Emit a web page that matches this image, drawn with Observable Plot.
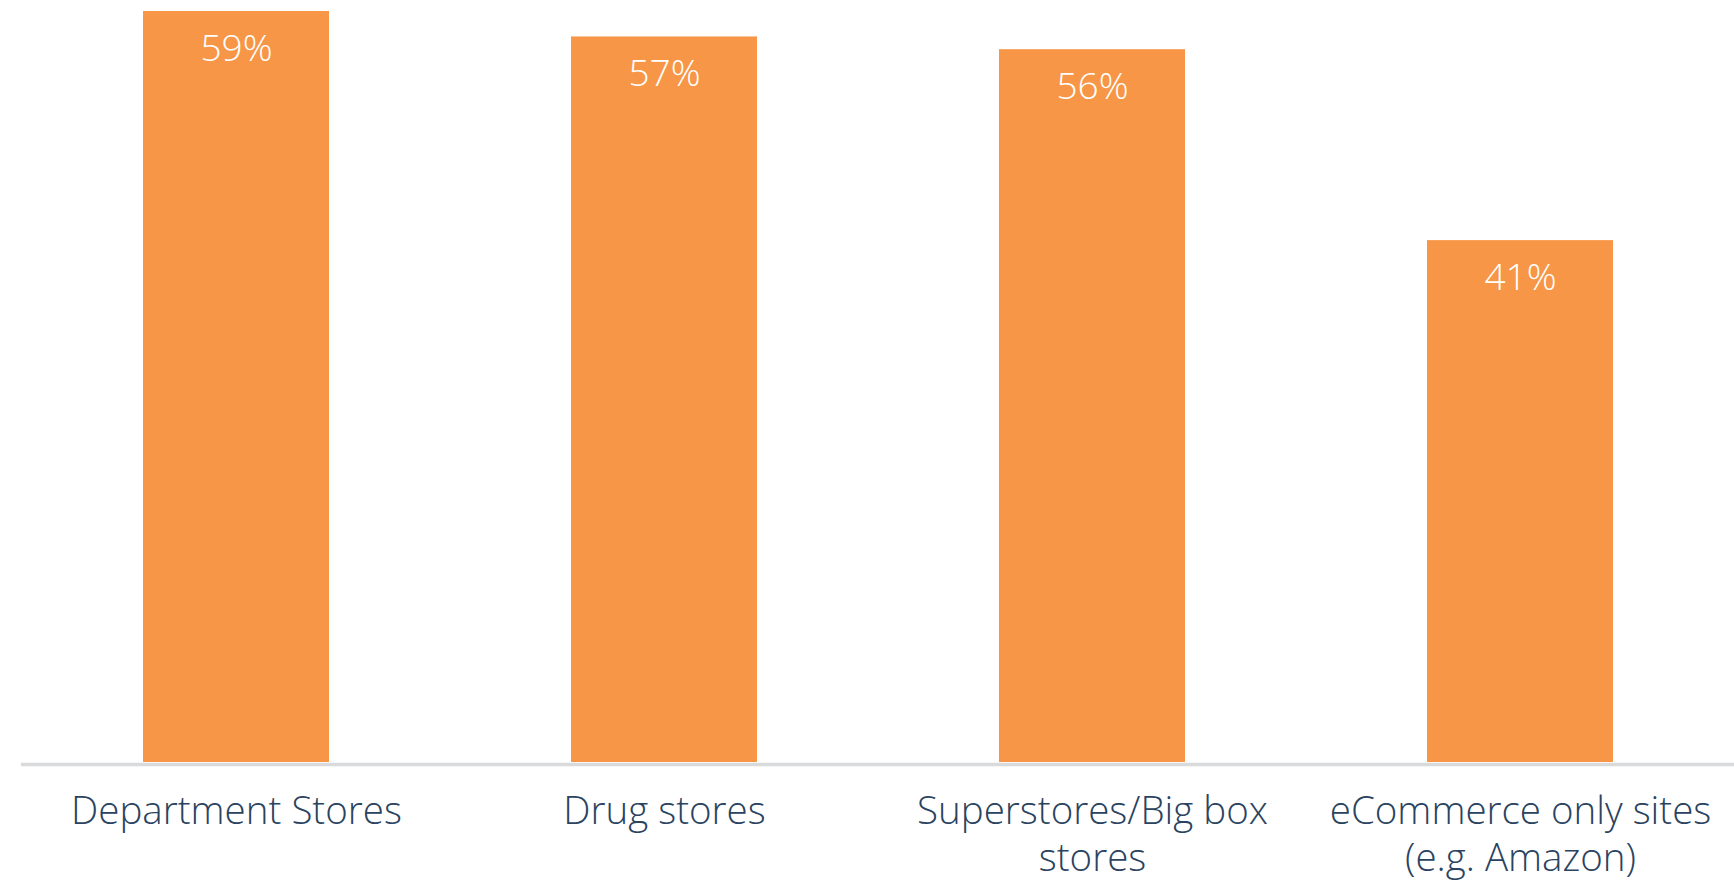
<!DOCTYPE html>
<html>
<head>
<meta charset="utf-8">
<script src="https://cdn.jsdelivr.net/npm/d3@7"></script>
<script src="https://cdn.jsdelivr.net/npm/@observablehq/plot@0.6"></script>
<style>
  html, body { margin: 0; padding: 0; background: #ffffff; }
  #chart { width: 1734px; height: 883px; overflow: hidden; }
</style>
</head>
<body>
<div id="chart"></div>
<script>
const categories = ["Department Stores", "Drug stores", "Superstores/Big box\nstores", "eCommerce only sites\n(e.g. Amazon)"];
const values = [59, 57, 56, 41];

const data = categories.map((c, i) => ({category: c, value: values[i]}));

const font = "'Open Sans', 'Noto Sans', sans-serif";

const chart = Plot.plot({
  width: 1734,
  height: 883,
  marginLeft: 21,
  marginRight: 0,
  marginTop: 11,
  marginBottom: 121,
  style: {background: "#ffffff", fontFamily: font},
  x: {domain: categories, paddingInner: 0.566, paddingOuter: 0.283, label: null},
  y: {domain: [0, 59], axis: null},
  marks: [
    Plot.barY(data, {x: "category", y: "value", fill: "#F79646"}),
    Plot.ruleY([0], {stroke: "#D9DADB", strokeWidth: 3.7, dy: 2}),
    Plot.text(data, {
      x: "category", y: "value", text: d => `${d.value}%`,
      fill: "#ffffff", fontSize: 37, fontWeight: 300, dy: 37.5, fontFamily: font
    }),
    Plot.axisX({
      tickSize: 0, tickPadding: 29, fontSize: 38.5, fontWeight: 300,
      fill: "#2A4360", lineHeight: 1.2, label: null, fontFamily: font,
      style: {letterSpacing: "0.3px"}
    })
  ]
});
document.getElementById("chart").appendChild(chart);
</script>
</body>
</html>
